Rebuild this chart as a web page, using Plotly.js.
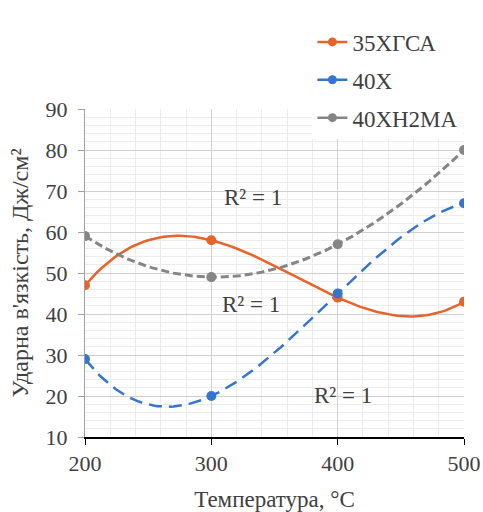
<!DOCTYPE html>
<html><head><meta charset="utf-8">
<script src="https://cdn.plot.ly/plotly-3.0.1.min.js"></script>
<style>html,body{margin:0;padding:0;background:#fff}#c{width:483px;height:512px}</style>
</head><body><div id="c"></div>
<script>
const temps = [200, 300, 400, 500];
const s35 = [47, 58, 44, 43];
const s40 = [29, 20, 45, 67];
const s40n = [59, 49, 57, 80];
const names = ['35ХГСА', '40Х', '40ХН2МА'];
const colors = ['#E8632A', '#3574D0', '#858585'];
const dashes = ['solid', '13px,7px', '8px,4px'];
const widths = [2.5, 2.5, 3];
const series = [s35, s40, s40n];
const r2Text = ['R² = 1', 'R² = 1', 'R² = 1'];
const r2X = [333, 331, 404];
const r2Y = [68.5, 42.2, 20.2];
const FONT = '"Liberation Serif", "Times New Roman", Times, serif';

// Polynomial (order 3) least-squares trendline, as in the original spreadsheet chart
function polyFit(xs, ys, order) {
  const x0 = xs[0], sc = 100;
  const n = order + 1;
  const A = Array.from({length: n}, () => new Array(n + 1).fill(0));
  xs.forEach((xv, k) => {
    const t = (xv - x0) / sc;
    for (let i = 0; i < n; i++) {
      for (let j = 0; j < n; j++) A[i][j] += Math.pow(t, i + j);
      A[i][n] += ys[k] * Math.pow(t, i);
    }
  });
  for (let i = 0; i < n; i++) {
    let p = i;
    for (let r = i + 1; r < n; r++) if (Math.abs(A[r][i]) > Math.abs(A[p][i])) p = r;
    [A[i], A[p]] = [A[p], A[i]];
    for (let r = 0; r < n; r++) {
      if (r === i) continue;
      const f = A[r][i] / A[i][i];
      for (let c = i; c <= n; c++) A[r][c] -= f * A[i][c];
    }
  }
  const coef = A.map((row, i) => row[n] / row[i]);
  return xv => coef.reduce((s, c, i) => s + c * Math.pow((xv - x0) / sc, i), 0);
}

const traces = [];
const xMin = Math.min(...temps), xMax = Math.max(...temps);
series.forEach((ys, i) => {
  const f = polyFit(temps, ys, 3);
  const tx = [], ty = [];
  for (let k = 0; k <= 120; k++) { const xv = xMin + (xMax - xMin) * k / 120; tx.push(xv); ty.push(f(xv)); }
  traces.push({x: tx, y: ty, mode: 'lines', type: 'scatter', showlegend: false, hoverinfo: 'skip',
    line: {color: colors[i], width: widths[i], dash: dashes[i]}});
});
series.forEach((ys, i) => {
  traces.push({x: temps, y: ys, mode: 'markers', type: 'scatter', showlegend: false,
    marker: {color: colors[i], size: 10}});
});
names.forEach((n, i) => {
  traces.push({x: [null], y: [null], mode: 'lines+markers', type: 'scatter', name: n, showlegend: true,
    legendgroup: 'g' + i, line: {color: colors[i], width: 2.5}, marker: {color: colors[i], size: 9}});
});

const annotations = r2Text.map((t, i) => ({x: r2X[i], y: r2Y[i], text: t, showarrow: false,
  font: {family: FONT, size: 23, color: '#404040'}}));

const layout = {
  width: 483, height: 512,
  margin: {l: 85, r: 19, t: 109, b: 75},
  paper_bgcolor: '#fff', plot_bgcolor: '#fff',
  font: {family: FONT, color: '#404040', size: 22},
  xaxis: {range: [200, 500], tickvals: temps, ticks: 'outside', ticklen: 6, tickcolor: '#000',
    showline: true, linecolor: '#000', linewidth: 2, gridcolor: '#d0d0d0', gridwidth: 1, zeroline: false,
    minor: {dtick: 20, showgrid: true, gridcolor: '#ececec', gridwidth: 1},
    tickfont: {family: FONT, size: 22, color: '#404040'},
    title: {text: 'Температура, °C', font: {family: FONT, size: 23, color: '#404040'}, standoff: 24}},
  yaxis: {range: [10, 90], dtick: 10, ticks: 'outside', ticklen: 6, tickcolor: '#a0a0a0',
    showline: true, linecolor: '#a0a0a0', linewidth: 1, gridcolor: '#d0d0d0', gridwidth: 1, zeroline: false,
    minor: {dtick: 2, showgrid: true, gridcolor: '#ececec', gridwidth: 1},
    tickfont: {family: FONT, size: 22, color: '#404040'}, ticklabelstandoff: 6,
    title: {text: 'Ударна в\'язкість, Дж/см²', font: {family: FONT, size: 24, color: '#404040'}, standoff: 10}},
  legend: {x: 0.60, y: 1.27, xanchor: 'left', yanchor: 'top', bgcolor: '#fff',
    font: {family: FONT, size: 23, color: '#404040'}, tracegroupgap: 5, itemwidth: 30},
  annotations: annotations
};
Plotly.newPlot('c', traces, layout, {displayModeBar: false, staticPlot: true});
</script></body></html>
